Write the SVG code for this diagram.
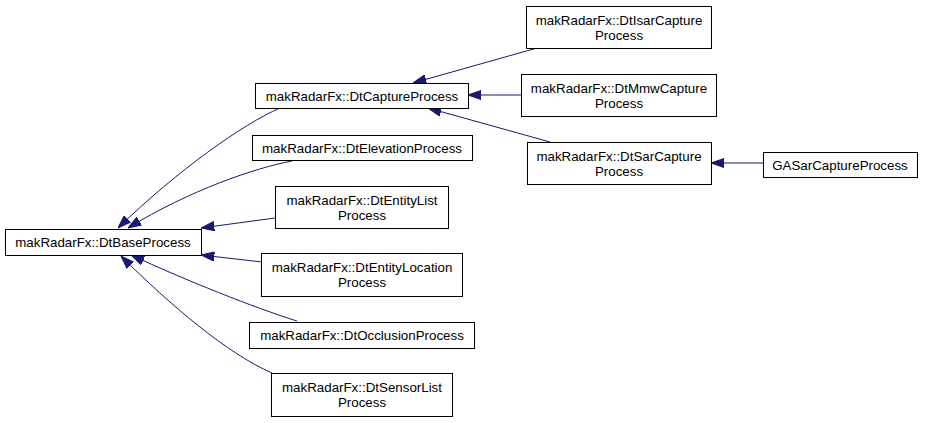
<svg xmlns="http://www.w3.org/2000/svg" width="926" height="423" viewBox="0 0 926 423">
<style>
.n rect{fill:#fff;stroke:#000;stroke-width:1}
.n text{font-family:"Liberation Sans",Arial,sans-serif;font-size:13.33px;fill:#000;text-anchor:middle}
.e path{fill:none;stroke:#191970;stroke-width:1;marker-end:url(#ah)}
</style>
<defs>
<marker id="ah" markerUnits="userSpaceOnUse" viewBox="0 0 13.3 10" refX="13.3" refY="5" markerWidth="13.3" markerHeight="10" orient="auto">
<path d="M0,0.33 L13.3,5 L0,9.67 z" fill="#191970" stroke="#191970" stroke-width="1"/>
</marker>
</defs>
<rect width="926" height="423" fill="#fff"/>
<g id="edges" class="e">
<path d="M280,108 C243,124 178,170 118,228"/>
<path d="M292,161 C255,168 190,190 128,228"/>
<path d="M275,218 L201,228"/>
<path d="M262,262 L201,255"/>
<path d="M297,321 C255,308 185,280 131,255"/>
<path d="M272,373 C228,354 170,305 121,256"/>
<path d="M537,48 L413,83"/>
<path d="M521,95 L468,95"/>
<path d="M550,142 L428,108"/>
<path d="M763,163 L711,163"/>
</g>
<g id="n_base" class="n"><rect x="5.5" y="229.5" width="196" height="26"/><text x="103" y="247">makRadarFx::DtBaseProcess</text></g>
<g id="n_capture" class="n"><rect x="255.5" y="83.5" width="213" height="25"/><text x="362" y="101">makRadarFx::DtCaptureProcess</text></g>
<g id="n_elevation" class="n"><rect x="252.5" y="135.5" width="220" height="25"/><text x="362" y="153">makRadarFx::DtElevationProcess</text></g>
<g id="n_entitylist" class="n"><rect x="275.5" y="186.5" width="173" height="42"/><text x="362" y="205">makRadarFx::DtEntityList</text><text x="362" y="220">Process</text></g>
<g id="n_entitylocation" class="n"><rect x="261.5" y="253.5" width="201" height="43"/><text x="362" y="272">makRadarFx::DtEntityLocation</text><text x="362" y="287">Process</text></g>
<g id="n_occlusion" class="n"><rect x="249.5" y="322.5" width="225" height="26"/><text x="362" y="340">makRadarFx::DtOcclusionProcess</text></g>
<g id="n_sensorlist" class="n"><rect x="271.5" y="373.5" width="181" height="43"/><text x="362" y="392">makRadarFx::DtSensorList</text><text x="362" y="407">Process</text></g>
<g id="n_isar" class="n"><rect x="526.5" y="6.5" width="185" height="42"/><text x="619" y="25">makRadarFx::DtIsarCapture</text><text x="619" y="40">Process</text></g>
<g id="n_mmw" class="n"><rect x="521.5" y="74.5" width="195" height="42"/><text x="619" y="93">makRadarFx::DtMmwCapture</text><text x="619" y="108">Process</text></g>
<g id="n_sar" class="n"><rect x="527.5" y="142.5" width="184" height="42"/><text x="619" y="161">makRadarFx::DtSarCapture</text><text x="619" y="176">Process</text></g>
<g id="n_gasar" class="n"><rect x="763.5" y="152.5" width="154" height="25"/><text x="840" y="170">GASarCaptureProcess</text></g>
</svg>
